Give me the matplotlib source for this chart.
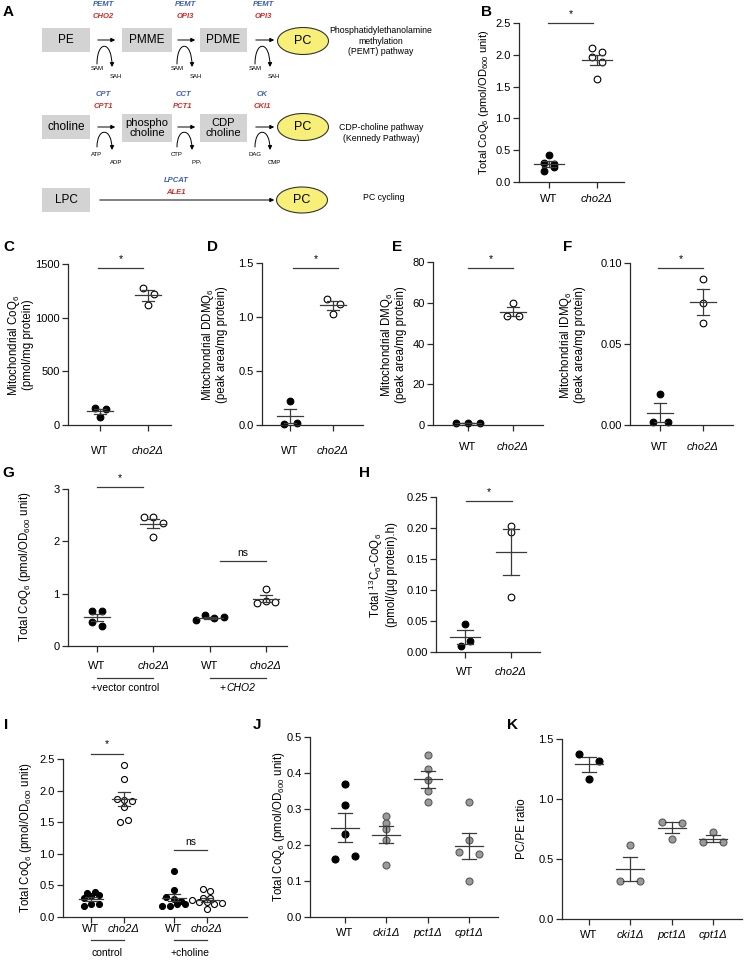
import matplotlib
matplotlib.use('Agg')
import matplotlib.pyplot as plt
import numpy as np
from matplotlib.patches import Rectangle, Ellipse, FancyArrowPatch
from matplotlib.path import Path

plt.rcParams['font.family'] = ['Liberation Sans', 'DejaVu Sans']
plt.rcParams['mathtext.default'] = 'regular'

# ---------------- data ----------------
two_groups = ['WT', 'cho2Δ']
b_wt = [0.30, 0.43, 0.29, 0.17, 0.23]
b_cho2 = [2.10, 2.04, 1.96, 1.88, 1.62]
c_wt = [155, 150, 75]
c_cho2 = [1280, 1225, 1115]
d_wt = [0.22, 0.01, 0.02]
d_cho2 = [1.17, 1.12, 1.03]
e_wt = [0.8, 1.0, 0.9]
e_cho2 = [60.0, 53.5, 53.5]
f_wt = [0.019, 0.002, 0.002]
f_cho2 = [0.090, 0.075, 0.063]
g_groups = ['WT', 'cho2Δ', 'WT', 'cho2Δ']
g_wt_vec = [0.67, 0.67, 0.46, 0.38]
g_cho2_vec = [2.46, 2.46, 2.35, 2.08]
g_wt_cho2 = [0.50, 0.59, 0.535, 0.55]
g_cho2_cho2 = [1.09, 0.82, 0.86, 0.84]
h_wt = [0.045, 0.010, 0.017]
h_cho2 = [0.203, 0.194, 0.088]
i_groups = ['WT', 'cho2Δ', 'WT', 'cho2Δ']
i_wt_ctrl = [0.17, 0.21, 0.20, 0.30, 0.33, 0.35, 0.38, 0.39]
i_cho2_ctrl = [2.41, 2.19, 1.86, 1.85, 1.84, 1.74, 1.50, 1.53]
i_wt_chol = [0.72, 0.43, 0.31, 0.28, 0.25, 0.17, 0.17, 0.21, 0.20]
i_cho2_chol = [0.45, 0.41, 0.30, 0.27, 0.30, 0.23, 0.24, 0.20, 0.22, 0.12]
jk_groups = ['WT', 'cki1Δ', 'pct1Δ', 'cpt1Δ']
j_wt = [0.37, 0.31, 0.23, 0.16, 0.17]
j_cki1 = [0.28, 0.26, 0.245, 0.215, 0.145]
j_pct1 = [0.45, 0.41, 0.38, 0.35, 0.32]
j_cpt1 = [0.32, 0.215, 0.18, 0.175, 0.10]
k_wt = [1.375, 1.32, 1.17]
k_cki1 = [0.62, 0.32, 0.32]
k_pct1 = [0.81, 0.80, 0.67]
k_cpt1 = [0.725, 0.64, 0.64]

W, H = 745, 961
fig = plt.figure(figsize=(7.45, 9.61), dpi=100)

ov = fig.add_axes([0, 0, 1, 1], zorder=5)
ov.set_xlim(0, W)
ov.set_ylim(H, 0)
ov.axis('off')
ov.patch.set_alpha(0)

AXC = '#2b2b2b'
BARC = '#3a3a3a'
BLUE = '#3c5db5'
RED = '#d42a2a'

# ---------------- panel A diagram ----------------
def box(x0, x1, y0, y1, label, fs=8.5):
    ov.add_patch(Rectangle((x0, y0), x1 - x0, y1 - y0, fc='#d3d3d3', ec='none'))
    ov.text((x0 + x1) / 2, (y0 + y1) / 2, label, ha='center', va='center',
            fontsize=fs, linespacing=1.0)

def pc(cx, cy, w=51, h=27):
    ov.add_patch(Ellipse((cx, cy), w, h, fc='#f8ef78', ec='#333333', lw=0.8))
    ov.text(cx, cy, 'PC', ha='center', va='center', fontsize=9)

def harrow(x0, x1, y):
    ov.add_patch(FancyArrowPatch((x0, y), (x1, y), arrowstyle='-|>',
                                 mutation_scale=6, lw=0.7, color='black'))

def arch(xl, xr, ytop, ybot):
    verts = [(xl, ybot - 3), (xl, ytop - 4), (xr, ytop - 4), (xr, ybot)]
    p = Path(verts, [Path.MOVETO, Path.CURVE4, Path.CURVE4, Path.CURVE4])
    ov.add_patch(FancyArrowPatch(path=p, arrowstyle='-|>', mutation_scale=6,
                                 lw=0.7, color='black'))

def enz(x, y, top, bot):
    ov.text(x, y, top, color=BLUE, fontsize=5.5, fontweight='bold',
            fontstyle='italic', ha='center', va='center')
    ov.text(x, y + 11, bot, color=RED, fontsize=5.5, fontweight='bold',
            fontstyle='italic', ha='center', va='center')

# row 1
box(42, 90, 28, 52, 'PE')
box(122, 172, 28, 52, 'PMME')
box(200, 247, 28, 52, 'PDME')
pc(303, 41)
for (ax0, ax1, xl, xr, x_enz, t, b) in [(95, 118, 97, 112, 103, 'PEMT', 'CHO2'),
                                        (175, 198, 177, 192, 185, 'PEMT', 'OPI3'),
                                        (253, 277, 255, 270, 263, 'PEMT', 'OPI3')]:
    harrow(ax0, ax1, 40)
    arch(xl, xr, 44, 67)
    enz(x_enz, 5, t, b)
    ov.text(xl, 69, 'SAM', fontsize=4.3, ha='center', va='center')
    ov.text(xr + 4, 77, 'SAH', fontsize=4.3, ha='center', va='center')
ov.text(381, 41, 'Phosphatidylethanolamine\nmethylation\n(PEMT) pathway',
        ha='center', va='center', fontsize=6.3, linespacing=1.15)

# row 2
box(42, 90, 115, 139, 'choline')
box(122, 172, 114, 142, 'phospho\ncholine', fs=8)
box(200, 247, 114, 142, 'CDP\ncholine', fs=8)
pc(303, 127)
row2 = [(95, 118, 97, 112, 103, 'CPT', 'CPT1', 'ATP', 'ADP'),
        (175, 198, 177, 192, 183, 'CCT', 'PCT1', 'CTP', 'PP$_i$'),
        (253, 277, 255, 270, 262, 'CK', 'CKI1', 'DAG', 'CMP')]
for (ax0, ax1, xl, xr, x_enz, t, b, l1, l2) in row2:
    harrow(ax0, ax1, 127)
    arch(xl, xr, 131, 150)
    enz(x_enz, 95, t, b)
    ov.text(xl, 155, l1, fontsize=4.3, ha='center', va='center')
    ov.text(xr + 4, 163, l2, fontsize=4.3, ha='center', va='center')
ov.text(381, 133, 'CDP-choline pathway\n(Kennedy Pathway)',
        ha='center', va='center', fontsize=6.3, linespacing=1.15)

# row 3
box(42, 90, 188, 212, 'LPC')
pc(302, 200, 51, 26)
harrow(97, 277, 200)
enz(176, 181, 'LPCAT', 'ALE1')
ov.text(363, 198, 'PC cycling', ha='left', va='center', fontsize=6.3)

# ---------------- scatter panels ----------------
def row_offsets(vals, ypx, thresh, step):
    """Prism-like spread: points whose values lie within `thresh` pixels share a row,
    rows are centred on the group position."""
    vals = np.asarray(vals, float)
    order = np.argsort(vals, kind='stable')
    rows, cur, start = [], [order[0]], vals[order[0]]
    for i in order[1:]:
        if (vals[i] - start) * ypx < thresh:
            cur.append(i)
        else:
            rows.append(cur)
            cur, start = [i], vals[i]
    rows.append(cur)
    offs = np.zeros(len(vals))
    for r in rows:
        r = sorted(r)
        n = len(r)
        for k, i in enumerate(r):
            offs[i] = (k - (n - 1) / 2) * step
    return offs


def panel(xpx0, xpx1, tick0, unit, positions, ytop, ybot, ylim, yticks, fmt,
          groups, labels, xpad, diam=6.7, step=10.0, thresh=None, mean_hw=15, cap_hw=7):
    if thresh is None:
        thresh = diam
    ax = fig.add_axes([xpx0 / W, 1 - ybot / H, (xpx1 - xpx0) / W, (ybot - ytop) / H])
    ax.patch.set_alpha(0)
    p0 = positions[0]
    ax.set_xlim(p0 - (tick0 - xpx0) / unit, p0 + (xpx1 - tick0) / unit)
    ax.set_ylim(*ylim)
    for s in ['top', 'right']:
        ax.spines[s].set_visible(False)
    for s in ['left', 'bottom']:
        ax.spines[s].set_color(AXC)
        ax.spines[s].set_linewidth(0.9)
    ax.set_yticks(yticks)
    ax.set_yticklabels([fmt.format(v) for v in yticks])
    ax.set_xticks(positions)
    ax.set_xticklabels(labels)
    for tl in ax.get_xticklabels():
        if 'Δ' in tl.get_text():
            tl.set_fontstyle('italic')
    ax.tick_params(axis='both', colors=AXC, labelcolor='black', labelsize=8,
                   width=0.9, length=4)
    ax.tick_params(axis='x', pad=xpad)
    ax.tick_params(axis='y', pad=2)
    ypx = (ybot - ytop) / (ylim[1] - ylim[0])
    s = (diam * 0.72) ** 2
    for pos, (vals, style) in zip(positions, groups):
        offs = row_offsets(vals, ypx, thresh, step) / unit
        if style == 'black':
            fc, ec = 'black', 'black'
        elif style == 'open':
            fc, ec = 'white', 'black'
        else:
            fc, ec = '#9a9a9a', '#5a5a5a'
        ax.scatter(pos + offs, vals, s=s, facecolor=fc, edgecolor=ec,
                   linewidths=0.8, zorder=2, clip_on=False)
        m = np.mean(vals)
        se = np.std(vals, ddof=1) / np.sqrt(len(vals))
        ax.plot([pos - mean_hw / unit, pos + mean_hw / unit], [m, m], color=BARC,
                lw=0.9, zorder=3, clip_on=False)
        ax.plot([pos - cap_hw / unit, pos + cap_hw / unit], [m + se, m + se], color=BARC,
                lw=0.9, zorder=3, clip_on=False)
        ax.plot([pos - cap_hw / unit, pos + cap_hw / unit], [m - se, m - se], color=BARC,
                lw=0.9, zorder=3, clip_on=False)
        ax.plot([pos, pos], [m - se, m + se], color=BARC, lw=0.9, zorder=3, clip_on=False)
    return ax


def sig(x0, x1, y, txt, dy=9):
    ov.plot([x0, x1], [y, y], color=BARC, lw=0.9)
    ov.text((x0 + x1) / 2, y - dy, txt, ha='center', va='center', fontsize=7.5)


def ylab(x, y, txt, fs=8.3):
    ov.text(x, y, txt, rotation=90, ha='center', va='center', fontsize=fs,
            linespacing=1.1)


def letter(x, y, t):
    ov.text(x, y, t, ha='center', va='center', fontsize=11, fontweight='bold')

CO = 'Total CoQ$_6$ (pmol/OD$_{600}$ unit)'

# B
panel(519, 624, 549, 48, [0, 1], 23, 182, (0, 2.5), [0, 0.5, 1.0, 1.5, 2.0, 2.5], '{:.1f}',
      [(b_wt, 'black'), (b_cho2, 'open')], two_groups, 4.3, step=10)
letter(487, 12, 'B')
ylab(484, 102, CO, fs=8)
sig(548, 593, 23, '*')

# C
panel(68, 171, 100, 48, [0, 1], 264, 425, (0, 1500), [0, 500, 1000, 1500], '{:.0f}',
      [(c_wt, 'black'), (c_cho2, 'open')], two_groups, 11, step=11, mean_hw=13, cap_hw=6)
letter(9, 247, 'C')
ylab(20, 345, 'Mitochondrial CoQ$_6$\n(pmol/mg protein)')
sig(98, 143, 268, '*')

# D
panel(262, 363, 290, 43, [0, 1], 263, 425, (0, 1.5), [0.0, 0.5, 1.0, 1.5], '{:.1f}',
      [(d_wt, 'black'), (d_cho2, 'open')], two_groups, 11, step=13, mean_hw=13, cap_hw=6)
letter(212, 247, 'D')
ylab(214, 345, 'Mitochondrial DDMQ$_6$\n(peak area/mg protein)')
sig(293, 338, 268, '*')

# E
panel(433, 543, 468, 45, [0, 1], 262, 425, (0, 80), [0, 20, 40, 60, 80], '{:.0f}',
      [(e_wt, 'black'), (e_cho2, 'open')], two_groups, 8, step=12, mean_hw=13, cap_hw=6)
letter(397, 247, 'E')
ylab(393, 345, 'Mitochondrial DMQ$_6$\n(peak area/mg protein)')
sig(468, 513, 268, '*')

# F
panel(630, 733, 660, 43, [0, 1], 263, 425, (0, 0.10), [0.00, 0.05, 0.10], '{:.2f}',
      [(f_wt, 'black'), (f_cho2, 'open')], two_groups, 8, step=15, mean_hw=13, cap_hw=6)
letter(568, 247, 'F')
ylab(572, 345, 'Mitochondrial IDMQ$_6$\n(peak area/mg protein)')
sig(658, 703, 268, '*')

# G
panel(68, 287, 97, 56.3, [0, 1, 2, 3], 489, 646, (0, 3), [0, 1, 2, 3], '{:.0f}',
      [(g_wt_vec, 'black'), (g_cho2_vec, 'open'), (g_wt_cho2, 'black'), (g_cho2_cho2, 'open')],
      g_groups, 6.5, mean_hw=13, cap_hw=6, step=9.3)
letter(8, 473, 'G')
ylab(25, 567, CO)
sig(97, 143, 487, '*')
sig(220, 266, 561, 'ns', dy=8)
ov.plot([97, 153], [678, 678], color=BARC, lw=0.9)
ov.plot([210, 266], [678, 678], color=BARC, lw=0.9)
ov.text(125, 688, '+vector control', ha='center', va='center', fontsize=7.5)
ov.text(226, 688, '+', ha='right', va='center', fontsize=7.5)
ov.text(226, 688, 'CHO2', ha='left', va='center', fontsize=7.5, fontstyle='italic')

# H
panel(436, 540, 465, 46, [0, 1], 497, 652, (0, 0.25), [0.00, 0.05, 0.10, 0.15, 0.20, 0.25],
      '{:.2f}', [(h_wt, 'black'), (h_cho2, 'open')], two_groups, 7, step=9, thresh=5,
      mean_hw=15, cap_hw=8)
letter(364, 473, 'H')
ylab(382, 575, 'Total $^{13}$C$_6$-CoQ$_6$\n(pmol/(µg protein).h)')
sig(466, 512, 501, '*')

# I
panel(63, 247, 91, 33, [0, 1, 2.5, 3.5], 759, 917, (0, 2.5), [0, 0.5, 1.0, 1.5, 2.0, 2.5],
      '{:.1f}', [(i_wt_ctrl, 'black'), (i_cho2_ctrl, 'open'), (i_wt_chol, 'black'),
                 (i_cho2_chol, 'open')], i_groups, 1.0, diam=6, step=7.5, thresh=5,
      mean_hw=12, cap_hw=6)
letter(6, 725, 'I')
ylab(26, 838, CO)
sig(91, 123, 754, '*', dy=10)
sig(174, 207, 850, 'ns', dy=8)
ov.plot([91, 124], [940, 940], color=BARC, lw=0.9)
ov.plot([174, 207], [940, 940], color=BARC, lw=0.9)
ov.text(107, 953, 'control', ha='center', va='center', fontsize=7.5)
ov.text(190, 953, '+choline', ha='center', va='center', fontsize=7.5)

# J
panel(310, 498, 345, 41.3, [0, 1, 2, 3], 737, 917, (0, 0.5), [0.0, 0.1, 0.2, 0.3, 0.4, 0.5],
      '{:.1f}', [(j_wt, 'black'), (j_cki1, 'grey'), (j_pct1, 'grey'), (j_cpt1, 'grey')],
      jk_groups, 4, diam=7, step=20, thresh=5, mean_hw=14, cap_hw=7)
letter(257, 725, 'J')
ylab(279, 827, CO)

# K
panel(562, 742, 589, 41.3, [0, 1, 2, 3], 739, 919, (0, 1.5), [0.0, 0.5, 1.0, 1.5], '{:.1f}',
      [(k_wt, 'black'), (k_cki1, 'grey'), (k_pct1, 'grey'), (k_cpt1, 'grey')],
      jk_groups, 4, diam=7, step=20, thresh=7.5, mean_hw=14, cap_hw=7)
letter(512, 725, 'K')
ylab(522, 829, 'PC/PE ratio')

letter(8, 12, 'A')

fig.savefig('out.png', dpi=100)
